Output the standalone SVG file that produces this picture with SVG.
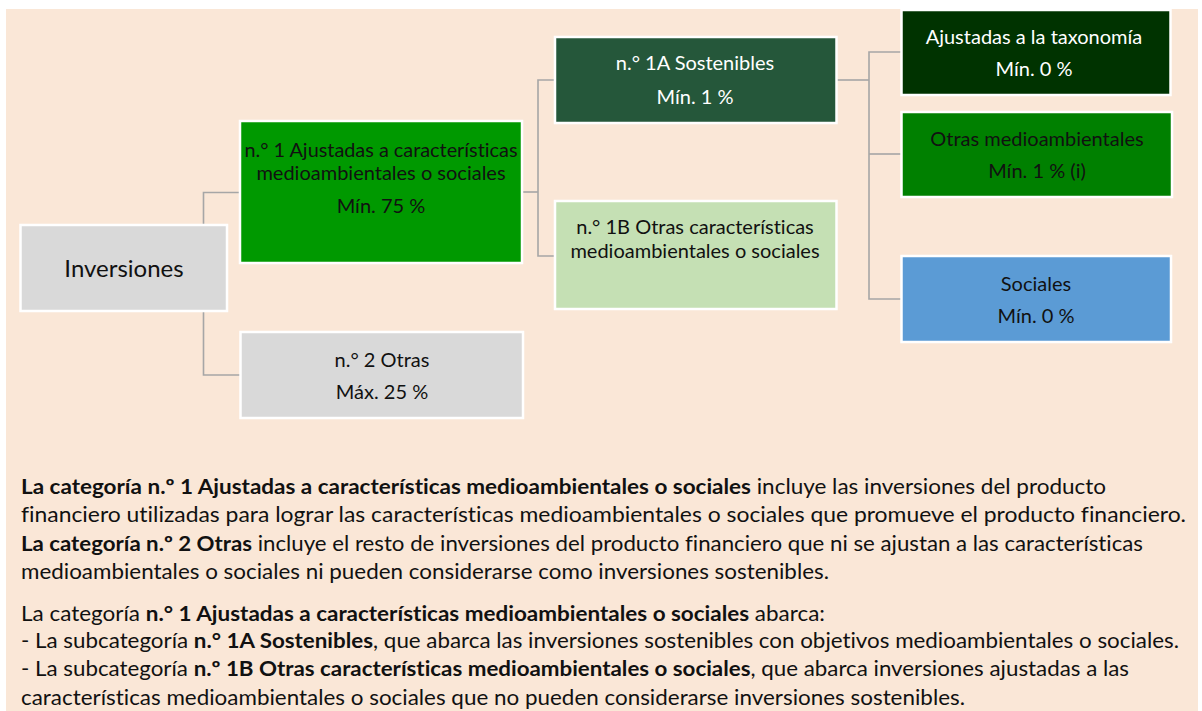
<svg xmlns="http://www.w3.org/2000/svg" width="1202" height="711" viewBox="0 0 1202 711">
<style>
text{font-variant-ligatures:none}
.box{stroke:#FFFFFF;stroke-width:2.5}
.bt{font-family:Lato,"Liberation Sans",sans-serif;font-size:20px;text-anchor:middle;fill:#111}
.wt{fill:#FFFFFF}
.con{fill:none;stroke:#A6A6A6;stroke-width:1.6}
.p{font-family:Lato,"Liberation Sans",sans-serif;font-size:20.5px;fill:#111}
.b{font-weight:bold}
</style>
<rect x="0" y="0" width="1202" height="711" fill="#FFFFFF"/>
<rect x="6" y="9" width="1192" height="702" fill="#FAE7D7"/>
<g id="connectors">
<polyline class="con" points="240,192.5 203.5,192.5 203.5,225"/>
<polyline class="con" points="203.5,311 203.5,375 240,375"/>
<polyline class="con" points="522,192 538,192"/>
<polyline class="con" points="554,80 538,80 538,256 554,256"/>
<polyline class="con" points="837,80 869,80"/>
<polyline class="con" points="901,52 869,52 869,299 901,299"/>
<line class="con" x1="869" y1="154" x2="901" y2="154"/>
</g>
<g id="n-inversiones">
<rect class="box" x="20.5" y="225" width="206.5" height="86" fill="#D9D9D9"/>
<text class="bt" x="124" y="277" style="font-size:24px">Inversiones</text>
</g>
<g id="n-1">
<rect class="box" x="240" y="121" width="282" height="142" fill="#009900"/>
<text class="bt" x="381" y="157" textLength="273" lengthAdjust="spacingAndGlyphs">n.° 1 Ajustadas a características</text>
<text class="bt" x="381" y="180">medioambientales o sociales</text>
<text class="bt" x="381" y="213">Mín. 75 %</text>
</g>
<g id="n-2">
<rect class="box" x="240.5" y="332" width="282.5" height="86" fill="#D9D9D9"/>
<text class="bt" x="382" y="367">n.° 2 Otras</text>
<text class="bt" x="382" y="399">Máx. 25 %</text>
</g>
<g id="n-1a">
<rect class="box" x="555" y="37" width="281.5" height="86" fill="#25573A"/>
<text class="bt wt" x="695" y="70">n.° 1A Sostenibles</text>
<text class="bt wt" x="695" y="104">Mín. 1 %</text>
</g>
<g id="n-1b">
<rect class="box" x="555" y="201" width="281.5" height="108" fill="#C5E0B4"/>
<text class="bt" x="695" y="234">n.° 1B Otras características</text>
<text class="bt" x="695" y="258">medioambientales o sociales</text>
</g>
<g id="n-taxonomia">
<rect class="box" x="901.5" y="10" width="269" height="85" fill="#003300"/>
<text class="bt wt" x="1034" y="44">Ajustadas a la taxonomía</text>
<text class="bt wt" x="1034" y="76">Mín. 0 %</text>
</g>
<g id="n-otras-medio">
<rect class="box" x="901.5" y="112" width="270.5" height="85" fill="#008000"/>
<text class="bt" x="1037" y="146">Otras medioambientales</text>
<text class="bt" x="1037" y="178">Mín. 1 % (i)</text>
</g>
<g id="n-sociales">
<rect class="box" x="901.5" y="256" width="269.5" height="86" fill="#5B9BD5"/>
<text class="bt" x="1036" y="291">Sociales</text>
<text class="bt" x="1036" y="323">Mín. 0 %</text>
</g>
<g id="legend">
<text class="p" x="21" y="494" textLength="1085" lengthAdjust="spacingAndGlyphs"><tspan class="b">La categoría n.º 1 Ajustadas a características medioambientales o sociales</tspan> incluye las inversiones del producto</text>
<text class="p" x="21" y="522" textLength="1165" lengthAdjust="spacingAndGlyphs">financiero utilizadas para lograr las características medioambientales o sociales que promueve el producto financiero.</text>
<text class="p" x="21" y="551" textLength="1122" lengthAdjust="spacingAndGlyphs"><tspan class="b">La categoría n.º 2 Otras</tspan> incluye el resto de inversiones del producto financiero que ni se ajustan a las características</text>
<text class="p" x="21" y="579" textLength="808" lengthAdjust="spacingAndGlyphs">medioambientales o sociales ni pueden considerarse como inversiones sostenibles.</text>
<text class="p" x="21" y="621" textLength="804" lengthAdjust="spacingAndGlyphs">La categoría <tspan class="b">n.° 1 Ajustadas a características medioambientales o sociales</tspan> abarca:</text>
<text class="p" x="21" y="648" textLength="1158" lengthAdjust="spacingAndGlyphs">- La subcategoría <tspan class="b">n.° 1A Sostenibles</tspan>, que abarca las inversiones sostenibles con objetivos medioambientales o sociales.</text>
<text class="p" x="21" y="676" textLength="1108" lengthAdjust="spacingAndGlyphs">- La subcategoría <tspan class="b">n.º 1B Otras características medioambientales o sociales</tspan>, que abarca inversiones ajustadas a las</text>
<text class="p" x="21" y="705" textLength="944" lengthAdjust="spacingAndGlyphs">características medioambientales o sociales que no pueden considerarse inversiones sostenibles.</text>
</g>
</svg>
